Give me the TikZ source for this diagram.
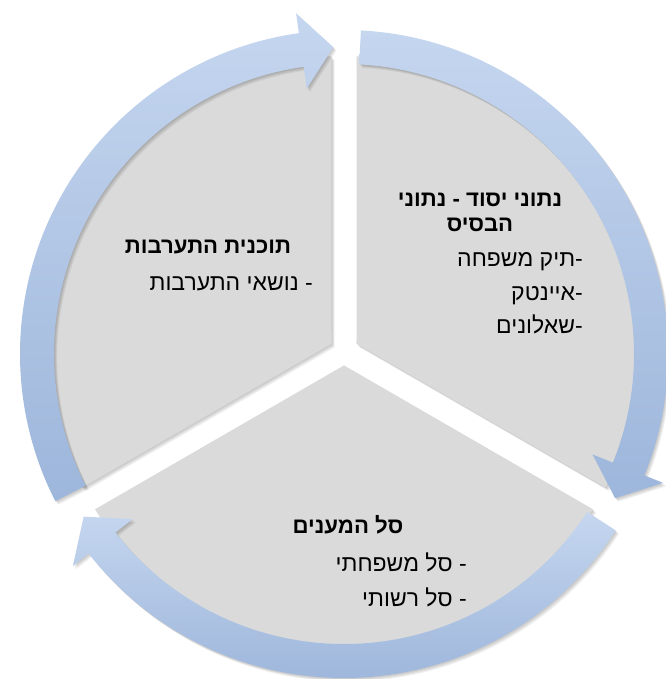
\documentclass[tikz,border=0pt]{standalone}
\usepackage{fontspec}
\newfontfamily\heb[Script=Hebrew]{Liberation Sans}
\TeXXeTstate=1
\definecolor{sectorgrey}{RGB}{218,218,218}
\definecolor{arrowtop}{RGB}{197,214,239}
\definecolor{arrowbot}{RGB}{157,182,219}
\begin{document}
\begin{tikzpicture}[x=1pt,y=1pt,
  sector/.style={fill=sectorgrey},
  shadowstep/.style={fill=black,opacity=0.055},
  ringarrow/.style={top color=arrowtop,bottom color=arrowbot},
  headtxt/.style={font=\heb\bfseries\fontsize{22.2}{26}\selectfont,inner sep=0pt,anchor=mid},
  itemtxt/.style={font=\heb\fontsize{23}{27}\selectfont,inner sep=0pt,anchor=mid east}]
\useasboundingbox (-344,-325) rectangle (321,354);
\fill[white] (-344,-325) rectangle (321,354);
% grey sectors
\foreach \a/\b/\m in {90/210/150, -30/90/30, 210/330/270}{
  \pgfmathsetmacro\sa{\a+2.45}
  \pgfmathsetmacro\sb{\b-2.45}
  \foreach \s in {1,...,4}{
    \fill[shadowstep,shift={({0.8*\s},{3-0.9*\s})}] (\m:14.43pt) -- (\sa:295pt) arc[start angle=\sa,end angle=\sb,radius=295pt] -- cycle;
  }
  \fill[sector,shift={(0,3)}] (\m:14.43pt) -- (\sa:295pt) arc[start angle=\sa,end angle=\sb,radius=295pt] -- cycle;
}
% ring arrows
\foreach \t in {87,-33,-153}{
  \pgfmathsetmacro\p{\t-115}
  \pgfmathsetmacro\h{\t-109}
  \foreach \s in {1,...,4}{
    \fill[shadowstep,shift={({0.8*\s},{-0.9*\s})}] (\t:324pt) arc[start angle=\t,end angle=\h,radius=324pt] -- (\h:344pt) -- (\p:307pt) -- (\h:268pt) -- (\h:290pt) arc[start angle=\h,end angle=\t,radius=290pt] -- cycle;
  }
  \shade[ringarrow] (\t:324pt) arc[start angle=\t,end angle=\h,radius=324pt] -- (\h:344pt) -- (\p:307pt) -- (\h:268pt) -- (\h:290pt) arc[start angle=\h,end angle=\t,radius=290pt] -- cycle;
}
% texts: top right
\node[headtxt] (trh1) at (136,150) {\beginR נתוני יסוד - נתוני\endR};
\node[headtxt] (trh2) at (136,125) {\beginR הבסיס\endR};
\node[itemtxt] (tri1) at (239,90) {\beginR -תיק משפחה\endR};
\node[itemtxt] (tri2) at (239,56) {\beginR -איינטק\endR};
\node[itemtxt] (tri3) at (239,23) {\beginR -שאלונים\endR};
% top left
\node[headtxt] (tlh) at (-136,103) {\beginR תוכנית התערבות\endR};
\node[itemtxt] (tli1) at (-31,66) {\beginR - נושאי התערבות\endR};
% bottom
\node[headtxt] (bh) at (4,-177) {\beginR סל המענים\endR};
\node[itemtxt] (bi1) at (123,-215) {\beginR - סל משפחתי\endR};
\node[itemtxt] (bi2) at (123,-250) {\beginR - סל רשותי\endR};
\end{tikzpicture}
\end{document}
